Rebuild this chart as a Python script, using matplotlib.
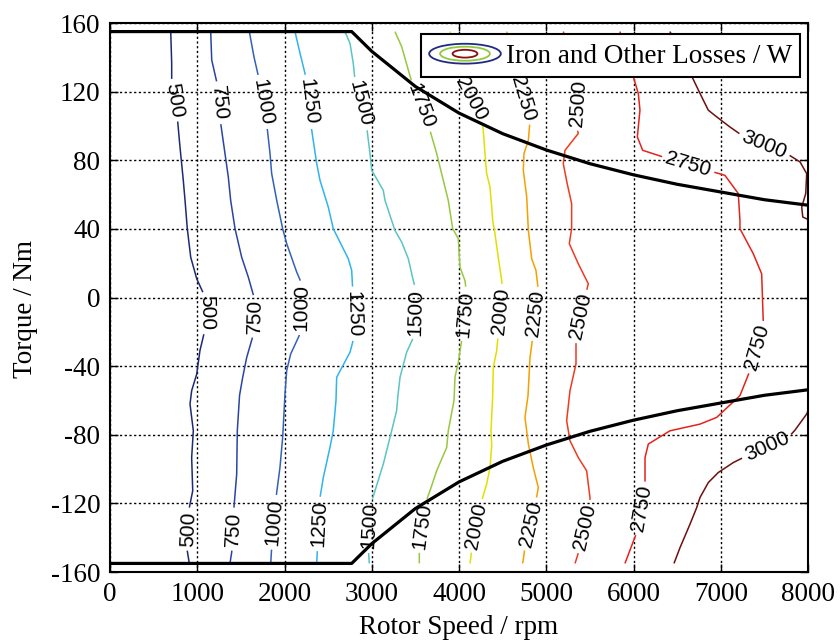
import numpy as np
import matplotlib
matplotlib.use("Agg")
import matplotlib.pyplot as plt
from matplotlib.contour import ContourSet
from matplotlib.patches import Ellipse
from matplotlib.legend_handler import HandlerBase

# ---------------------------------------------------------------
# Iron and other losses (W) over the speed / torque plane.
# Each iso-loss line is given as rotor speed (rpm) vs torque (Nm).
# ---------------------------------------------------------------
loss_levels = [500, 750, 1000, 1250, 1500, 1750, 2000, 2250, 2500, 2750, 3000]

speed_500 = [696, 707, 707, 771, 802, 840, 860, 886, 925, 994, 1108, 1100, 1031,
             994, 936, 917, 955, 936, 948, 909, 886, 909]
torque_500 = [155, 136.5, 124.8, 105.3, 87.8, 68.3, 56.6, 40.1, 23.5, 10.9, -1.8,
              -16.3, -30.9, -44.6, -54.3, -62.1, -77.7, -93.3, -112.7, -122.5,
              -147.8, -155]

speed_750 = [1154, 1166, 1223, 1269, 1318, 1356, 1383, 1433, 1509, 1585, 1662, 1650,
             1567, 1521, 1485, 1459, 1452, 1421, 1395, 1375]
torque_750 = [155, 138.4, 125.7, 101.4, 83.9, 70.2, 56.6, 40.1, 23.5, 11.9, -1.9,
              -20.3, -34.9, -46.5, -57, -77.7, -103, -122.1, -148.4, -155]

speed_1000 = [1597, 1650, 1711, 1796, 1834, 1853, 1911, 1979, 2025, 2140, 2197, 2186,
              2071, 2025, 2006, 1979, 1948, 1903, 1853, 1842]
torque_1000 = [155, 140.3, 126.7, 101.4, 83.9, 72.2, 56.6, 40.1, 31.4, 14.8, 8.0,
               -20.3, -32.9, -42.6, -56, -81.6, -99.1, -116.6, -145.8, -155]

speed_1250 = [2120, 2178, 2235, 2312, 2369, 2407, 2502, 2559, 2731, 2770, 2782, 2796,
              2751, 2598, 2590, 2559, 2521, 2445, 2407, 2376, 2369]
torque_1250 = [155, 142.3, 130.6, 97.5, 78.1, 68.3, 52.7, 40.1, 22.6, 15.8, 4.1,
               -23.2, -31.9, -46.5, -60.1, -77.7, -87.4, -104.9, -116.6, -147.7, -155]

speed_1500 = [2693, 2751, 2788, 2808, 2942, 2980, 2999, 3132, 3152, 3266, 3343, 3419,
              3476, 3507, 3496, 3400, 3324, 3300, 3285, 3209, 3132, 3037, 2988, 2960,
              2972]
torque_1500 = [155, 148.1, 136.5, 126.7, 99.4, 83.9, 74.2, 62.5, 56.6, 39.1, 32.3,
               22.6, 9.9, 4.1, -21.2, -31.9, -46.5, -57.2, -66.0, -81.6, -97.1,
               -112.7, -120.5, -145.8, -155]

speed_1750 = [3266, 3343, 3419, 3458, 3667, 3744, 3820, 3877, 3928, 3992, 4011, 4068,
              4088, 4042, 3992, 3954, 3943, 3877, 3859, 3744, 3667, 3610, 3545, 3545]
torque_1750 = [155, 146.2, 132.6, 125.7, 97.5, 83.9, 68.3, 56.6, 40.1, 34.3, 17.7,
               9.9, 2.2, -21.2, -37.8, -46.5, -60, -77.7, -87.4, -101.0, -112.7,
               -120.5, -145.8, -155]

speed_2000 = [3897, 4011, 4260, 4278, 4298, 4317, 4355, 4375, 4386, 4412, 4450, 4489,
              4501, 4450, 4432, 4393, 4386, 4367, 4375, 4355, 4317, 4260, 4145, 4126]
torque_2000 = [155, 126.7, 105.3, 97.5, 83.9, 72.2, 64.4, 52.7, 45.0, 37.2, 23.5,
               9.9, 5.1, -21.2, -31.0, -40.7, -57.2, -77.7, -86.4, -99.1, -108.8,
               -118.5, -147.7, -155]

speed_2250 = [4547, 4665, 4814, 4795, 4745, 4737, 4776, 4795, 4833, 4882, 4909, 4845,
              4814, 4802, 4791, 4756, 4795, 4851, 4909, 4882, 4756, 4730]
torque_2250 = [155, 128, 103.4, 91.7, 83.9, 74.2, 58.6, 39.1, 22.6, 15.8, 4.1, -23.2,
               -34.9, -46.5, -57.2, -69.9, -85.4, -99.1, -110.8, -118.5, -145.8, -155]

speed_2500 = [5195, 5387, 5349, 5367, 5215, 5195, 5240, 5291, 5291, 5264, 5367, 5482,
              5444, 5341, 5341, 5272, 5234, 5272, 5367, 5463, 5501, 5501, 5387, 5330]
torque_2500 = [155, 126.7, 99.4, 95.6, 85.8, 78.1, 66.4, 54.7, 40.1, 31.4, 19.7, 8.0,
               0.2, -22.1, -38.7, -54.3, -71.8, -83.5, -93.3, -101.0, -116.6, -121.5,
               -145.8, -155]

speed_2750 = [5845, 5937, 5998, 6055, 6074, 6044, 6105, 6341, 6914, 7048, 7201, 7220,
              7220, 7373, 7469, 7488, 7335, 7220, 6953, 6762, 6418, 6170, 6132, 6132,
              6044, 5902]
torque_2750 = [155, 138.4, 128.6, 118.9, 109.2, 93.6, 85.8, 81.9, 73.2, 71.2, 60.6,
               45.0, 40.1, 25.5, 13.8, -15.4, -42.6, -57.2, -69.9, -73.8, -77.7,
               -85.4, -93.3, -110.8, -136, -155]

# the 3000 W line splits into a motoring and a generating branch
speed_3000_motor = [6418, 6555, 6685, 6781, 6857, 6953, 7105, 7240, 7507, 7756, 7909,
                    7985, 7974, 7928, 7940, 8000]
torque_3000_motor = [155, 141.3, 127.1, 117.0, 109.2, 105.3, 99.4, 94.6, 88.8, 83.9,
                     79.0, 72.2, 60.6, 52.7, 46.9, 45.5]
speed_3000_gen = [6464, 6533, 6647, 6724, 6762, 6857, 6972, 7144, 7297, 7774, 7851,
                  7985, 8000]
torque_3000_gen = [-155, -145.8, -132.2, -122.5, -116.6, -107.9, -102.0, -96.2, -92.3,
                   -81.6, -77.3, -67.9, -66]

# torque limit of the drive (motoring side; braking side is its mirror)
limit_speed = [0, 2770, 3000, 3500, 4000, 4500, 5000, 5500, 6000, 6500, 7000, 7500, 8000]
limit_torque = [155, 155, 143.5, 123, 107.5, 95.5, 86, 78, 71.5, 66, 61.5, 57, 53.8]

speed_ticks = list(range(0, 8001, 1000))
torque_ticks = list(range(-160, 161, 40))

# where the value labels sit on the lines
label_speed = [740, 1104, 897, 1246, 1656, 1408, 1753, 2192, 1878, 2273, 2789, 2391,
               2875, 3501, 2974, 3562, 4065, 3578, 4135, 4475, 4200, 4740, 4877, 4820,
               5368, 5393, 5444, 6627, 7410, 6090, 7500, 7530]
label_torque = [115, -9, -135, 113.5, -11, -135, 114, -6, -131, 114, -9.5, -132,
                113, -8.5, -133, 111.6, -9.5, -133, 116, -8, -133, 116, -9.5, -132,
                113, -11, -133.6, 77.5, -29, -123, 89, -87]

# ---------------------------------------------------------------
# styling
# ---------------------------------------------------------------
line_colors = ['#1f2a72', '#2a44a2', '#3560b8', '#2fb4ec', '#5cc4c4', '#98c840',
               '#e2df00', '#f5a000', '#f03a20', '#e5221c', '#6e0f0f']
key_colors = ['#1f2a80', '#90c840', '#8b1010']
key_widths = [0.98, 0.68, 0.34]
key_heights = [0.82, 0.58, 0.32]

plt.rcParams.update({
    'font.family': 'Liberation Serif',
    'font.size': 19.5,
    'axes.unicode_minus': False,
})

W, H = 840, 641
fig = plt.figure(figsize=(W / 100, H / 100), dpi=100)
ax = fig.add_axes([110 / W, (H - 572) / H, 698 / W, 549 / H])

ax.set_xlim(0, 8000)
ax.set_ylim(-160, 160)
ax.set_xticks(speed_ticks)
ax.set_yticks(torque_ticks)
ax.grid(True, color='k', linestyle=(0, (1.6, 1.8)), linewidth=1.0)
ax.set_axisbelow(True)

segments = [
    [np.column_stack([speed_500, torque_500])],
    [np.column_stack([speed_750, torque_750])],
    [np.column_stack([speed_1000, torque_1000])],
    [np.column_stack([speed_1250, torque_1250])],
    [np.column_stack([speed_1500, torque_1500])],
    [np.column_stack([speed_1750, torque_1750])],
    [np.column_stack([speed_2000, torque_2000])],
    [np.column_stack([speed_2250, torque_2250])],
    [np.column_stack([speed_2500, torque_2500])],
    [np.column_stack([speed_2750, torque_2750])],
    [np.column_stack([speed_3000_motor, torque_3000_motor]),
     np.column_stack([speed_3000_gen, torque_3000_gen])],
]
cs = ContourSet(ax, loss_levels, segments, colors=line_colors, linewidths=1.1)
ax.set_xlim(0, 8000)
ax.set_ylim(-160, 160)

with plt.rc_context({'font.family': 'Liberation Sans'}):
    ax.clabel(cs, manual=list(zip(label_speed, label_torque)), inline=True,
              inline_spacing=4, fmt='%d', fontsize=15, colors='k')

ax.plot(limit_speed, limit_torque, color='k', linewidth=2.3, zorder=4,
        solid_joinstyle='round')
ax.plot(limit_speed, [-t for t in limit_torque], color='k', linewidth=2.3, zorder=4,
        solid_joinstyle='round')

ax.tick_params(direction='in', length=5.5, width=1.0, top=True, right=True,
               labelsize=19.5, pad=7)
for sp in ax.spines.values():
    sp.set_linewidth(1.5)

ax.set_xlabel('Rotor Speed / rpm', fontsize=19.5, va='center')
ax.xaxis.set_label_coords(0.5, (572 - 627) / 549)
ax.set_ylabel('Torque / Nm', fontsize=19.5, va='center')
ax.yaxis.set_label_coords((26 - 110) / 698, (572 - 309) / 549)


class LossKey:
    pass


class LossKeyHandler(HandlerBase):
    def create_artists(self, legend, orig_handle, xdescent, ydescent, width, height,
                       fontsize, trans):
        cx = 0.5 * width - xdescent
        cy = 0.5 * height - ydescent
        return [Ellipse((cx, cy), width * w, height * h, fill=False, edgecolor=c,
                        linewidth=1.3, transform=trans)
                for w, h, c in zip(key_widths, key_heights, key_colors)]


leg = ax.legend([LossKey()], ['Iron and Other Losses / W'],
                handler_map={LossKey: LossKeyHandler()},
                loc='upper right', bbox_to_anchor=((800 - 110) / 698, (572 - 34) / 549),
                borderaxespad=0, fancybox=False, framealpha=1, edgecolor='k',
                handlelength=2.7, handleheight=1.0, handletextpad=0.17,
                borderpad=0.28, prop={'family': 'Liberation Serif', 'size': 19.5})
leg.get_frame().set_linewidth(1.5)
leg.set_zorder(10)

fig.savefig('out.png', dpi=100)
